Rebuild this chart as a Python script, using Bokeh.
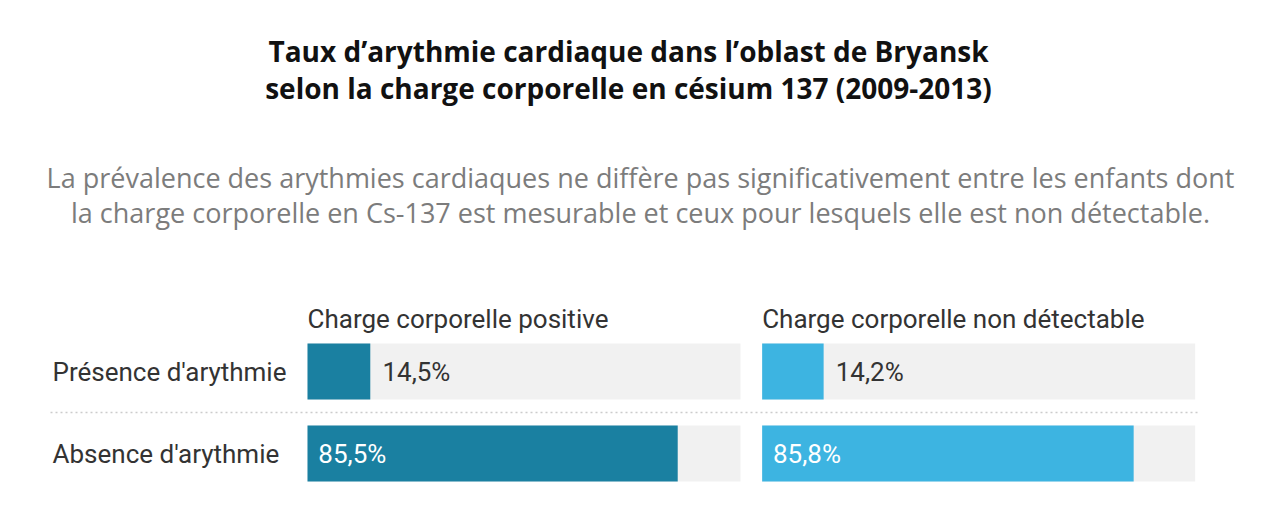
from bokeh.plotting import figure
from bokeh.models import Range1d, ColumnDataSource
from bokeh.core.properties import value
from bokeh.embed import file_html
from bokeh.resources import INLINE

# ---- data ----
title_lines = ["Taux d\u2019arythmie cardiaque dans l\u2019oblast de Bryansk",
               "selon la charge corporelle en césium 137 (2009-2013)"]
subtitle_lines = ["La prévalence des arythmies cardiaques ne diffère pas significativement entre les enfants dont",
                  "la charge corporelle en Cs-137 est mesurable et ceux pour lesquels elle est non détectable."]
categories = ["Présence d'arythmie", "Absence d'arythmie"]
groups = ["Charge corporelle positive", "Charge corporelle non détectable"]
positive = [14.5, 85.5]
non_detectable = [14.2, 85.8]
series = [positive, non_detectable]
colors = ["#1a80a1", "#3db4e1"]

# ---- layout constants (pixels) ----
W, H = 1270, 495
px_per_unit = 4.33          # pixels per percentage point
panel0_px = 307             # canvas x where panel 1 starts
panel_gap_units = 105       # offset of panel 2 in percent units
row_y = [371, 453]          # canvas y (from top) of row centres
bar_h = 56

def ux(px):
    return (px - panel0_px) / px_per_unit

p = figure(width=W, height=H, output_backend="svg", toolbar_location=None,
           x_range=Range1d(ux(0), ux(W)), y_range=Range1d(H, 0),
           x_axis_type=None, y_axis_type=None, min_border=0)
p.grid.visible = False
p.outline_line_color = None
p.background_fill_color = "white"
p.border_fill_color = "white"

# title
p.text(x=[ux(628)] * 2, y=[50, 87], text=title_lines,
       text_font=value("Open Sans"), text_font_style="bold",
       text_font_size="28px", text_color="#111111",
       text_align="center", text_baseline="middle")
# subtitle
p.text(x=[ux(640)] * 2, y=[177, 212], text=subtitle_lines,
       text_font=value("Open Sans"), text_font_style="normal",
       text_font_size="27px", text_color="#7c7c7c",
       text_align="center", text_baseline="middle")

# dotted separator
sep_y = (row_y[0] + row_y[1]) / 2
p.line(x=[ux(50), ux(1200)], y=[sep_y, sep_y],
       line_color="#cccccc", line_dash="2 3", line_width=1.5)

# row labels
p.text(x=[ux(52)] * len(categories), y=row_y, text=categories,
       text_font=value("Roboto"), text_font_size="26px", text_color="#333333",
       text_align="left", text_baseline="middle")

for gi, (g, vals) in enumerate(zip(groups, series)):
    off = gi * panel_gap_units
    # header
    p.text(x=[off], y=[318], text=[g], text_font=value("Roboto"),
           text_font_size="26px", text_color="#333333",
           text_align="left", text_baseline="middle")
    # tracks
    p.hbar(y=row_y, left=[off] * len(vals), right=[off + 100] * len(vals),
           height=bar_h, fill_color="#f1f1f1", line_color=None)
    # bars
    src = ColumnDataSource(dict(y=row_y, left=[off] * len(vals),
                                right=[off + v for v in vals]))
    p.hbar(y="y", left="left", right="right", height=bar_h, source=src,
           fill_color=colors[gi], line_color=None)
    # value labels
    lbl = [f"{v:.1f}%".replace(".", ",") for v in vals]
    inside = [v > 50 for v in vals]
    xs = [off + 2.5 if ins else off + v + 2.8 for v, ins in zip(vals, inside)]
    cols = ["white" if ins else "#333333" for ins in inside]
    p.text(x=xs, y=row_y, text=lbl, text_color=cols,
           text_font=value("Roboto"), text_font_size="26px",
           text_align="left", text_baseline="middle")

open("out.html", "w").write(file_html(p, INLINE))
